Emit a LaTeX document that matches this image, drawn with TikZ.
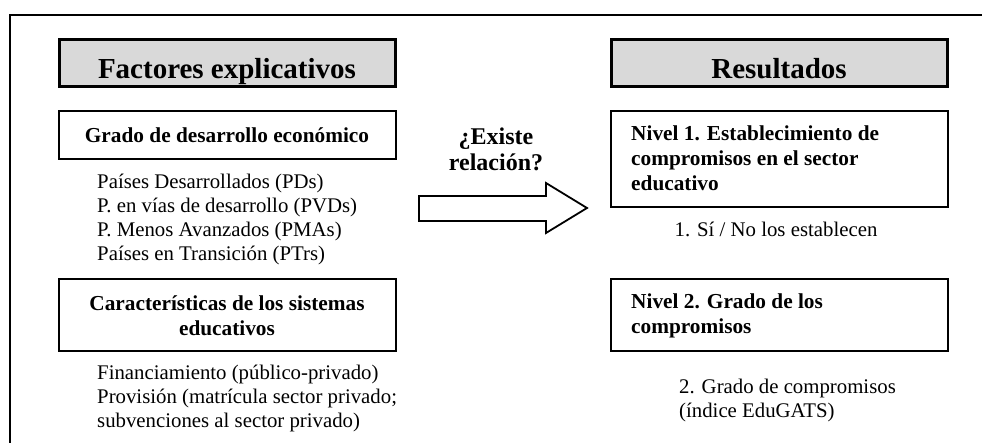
\documentclass[tikz,border=0pt]{standalone}
\usepackage{fontspec}
\setmainfont{Liberation Serif}
\begin{document}
\begin{tikzpicture}[x=1pt,y=-1pt,
  header/.style={draw=black, line width=3pt, fill=gray!30, minimum width=336pt, minimum height=47pt, inner sep=0pt},
  headtext/.style={font=\bfseries\fontsize{29}{34}\selectfont, inner sep=0pt, anchor=base},
  factbox/.style={draw=black, line width=2pt, minimum width=337pt, inner sep=0pt},
  boxtext/.style={font=\bfseries\fontsize{21.3}{25}\selectfont, inner sep=0pt},
  listtext/.style={font=\fontsize{20.8}{24}\selectfont, inner sep=0pt, align=left, anchor=base west},
  bigarrow/.style={draw=black, line width=1.8pt, fill=white, line join=miter}
]
\useasboundingbox (0,0) rectangle (982,443);
% frame
\draw[line width=2pt] (10,450) -- (10,15) -- (990,15);

% headers
\node[header] (hf) at (227,63.5) {};
\node[headtext] (hft) at (227,79) {Factores explicativos};
\node[header] (hr) at (779,63.5) {};
\node[headtext] (hrt) at (779,79) {Resultados};

% left boxes
\node[factbox, minimum height=48pt] (g) at (227,135.5) {};
\node[boxtext] (gt) at (227,135.5) {Grado de desarrollo económico};
\node[listtext] (gl) at (97,261) {Países Desarrollados (PDs)\\P. en vías de desarrollo (PVDs)\\P. Menos Avanzados (PMAs)\\Países en Transición (PTrs)};

\node[factbox, minimum height=72pt] (c) at (227,315.5) {};
\node[boxtext, align=center] (ct) at (227,315.5) {Características de los sistemas\\educativos};
\node[listtext] (cl) at (97,427) {Financiamiento (público-privado)\\Provisión (matrícula sector privado;\\subvenciones al sector privado)};

% right boxes
\node[factbox, minimum height=96pt] (n1) at (779,159.5) {};
\node[boxtext, align=left, anchor=west] (n1t) at (631,158) {Nivel 1. Establecimiento de\\compromisos en el sector\\educativo};
\node[listtext, anchor=base] (n1l) at (776,237) {1. Sí / No los establecen};

\node[factbox, minimum height=72pt] (n2) at (779,315.5) {};
\node[boxtext, align=left, anchor=west] (n2t) at (631,315.5) {Nivel 2. Grado de los\\compromisos};
\node[listtext] (n2l) at (679,417) {2. Grado de compromisos\\(índice EduGATS)};

% arrow
\node[boxtext, font=\bfseries\fontsize{24}{26}\selectfont, align=center] (q) at (496,149) {¿Existe\\relación?};
\draw[bigarrow] (419,196) -- (546,196) -- (546,183) -- (587,208) -- (546,233) -- (546,221) -- (419,221) -- cycle;
\end{tikzpicture}
\end{document}
